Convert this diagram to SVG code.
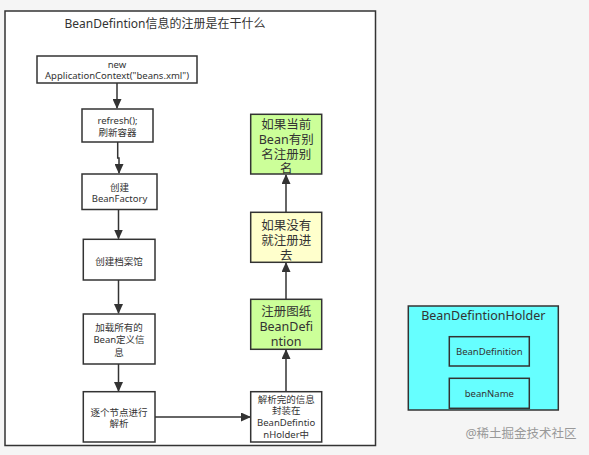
<svg xmlns="http://www.w3.org/2000/svg" width="589" height="455" viewBox="0 0 589 455">
<style>
.bx{stroke:#333;stroke-width:1.5}
.w{fill:#fff}
.g{fill:#ccff99}
.y{fill:#ffffcc}
.c{fill:#66ffff}
text{font-family:"Noto Sans","Noto Sans CJK SC",sans-serif;fill:#333;text-anchor:middle}
.s{font-size:9.5px}
.l{font-size:12.5px}
.ln{stroke:#333;stroke-width:1.5;fill:none}
</style>
<defs>
<marker id="ah" viewBox="0 0 10 10" refX="9" refY="5" markerWidth="10" markerHeight="9" markerUnits="userSpaceOnUse" orient="auto" preserveAspectRatio="none">
<path d="M0,0 L10,5 L0,10 Z" fill="#333"/>
</marker>
</defs>
<rect width="589" height="455" fill="#f5f5f5"/>
<rect x="5" y="11" width="370.5" height="434.5" fill="#fff" stroke="#333" stroke-width="1.5"/>
<text x="165" y="28" style="font-size:12px">BeanDefintion信息的注册是在干什么</text>
<g id="connectors">
<path class="ln" d="M117,83 V108" marker-end="url(#ah)"/>
<path class="ln" d="M117.7,142 V158 H119 V173" marker-end="url(#ah)"/>
<path class="ln" d="M118.5,209.5 V238.5" marker-end="url(#ah)"/>
<path class="ln" d="M118.5,280 V313" marker-end="url(#ah)"/>
<path class="ln" d="M118.5,364 V391" marker-end="url(#ah)"/>
<path class="ln" d="M155,417 H250" marker-end="url(#ah)"/>
<path class="ln" d="M286,391.7 V350" marker-end="url(#ah)"/>
<path class="ln" d="M286,299.3 V263" marker-end="url(#ah)"/>
<path class="ln" d="M286,212.3 V175" marker-end="url(#ah)"/>
</g>
<g id="n1"><rect class="bx w" x="37" y="56" width="160" height="27"/>
<text class="s" x="117" y="68">new</text><text class="s" x="117" y="79">ApplicationContext("beans.xml")</text></g>
<g id="n2"><rect class="bx w" x="82" y="109" width="71" height="33"/>
<text class="s" x="117.5" y="124">refresh();</text><text class="s" x="117.5" y="136">刷新容器</text></g>
<g id="n3"><rect class="bx w" x="82" y="174" width="75" height="35.5"/>
<text class="s" x="119.5" y="190.5">创建</text><text class="s" x="119.5" y="202">BeanFactory</text></g>
<g id="n4"><rect class="bx w" x="83.3" y="239.3" width="71.7" height="40.7"/>
<text class="s" x="119" y="264.5">创建档案馆</text></g>
<g id="n5"><rect class="bx w" x="83.3" y="314" width="71.7" height="50"/>
<text class="s" x="119" y="330.5">加载所有的</text><text class="s" x="119" y="343">Bean定义信</text><text class="s" x="119" y="355.5">息</text></g>
<g id="n6"><rect class="bx w" x="83.3" y="391.7" width="71.7" height="50.3"/>
<text class="s" x="119" y="415.5">逐个节点进行</text><text class="s" x="119" y="426.5">解析</text></g>
<g id="n7"><rect class="bx w" x="250.7" y="391.7" width="71" height="50.3"/>
<text class="s" x="286.2" y="403">解析完的信息</text><text class="s" x="286.2" y="414">封装在</text><text class="s" x="286.2" y="426">BeanDefintio</text><text class="s" x="286.2" y="438">nHolder中</text></g>
<g id="n8"><rect class="bx g" x="250.7" y="299.3" width="71" height="50"/>
<text class="l" x="286.2" y="315.5">注册图纸</text><text class="l" x="286.2" y="330.5">BeanDefi</text><text class="l" x="286.2" y="345.5">ntion</text></g>
<g id="n9"><rect class="bx y" x="250.7" y="212.3" width="71" height="50"/>
<text class="l" x="286.2" y="230.2">如果没有</text><text class="l" x="286.2" y="244.7">就注册进</text><text class="l" x="286.2" y="259.5">去</text></g>
<g id="n10"><rect class="bx g" x="250.7" y="114.3" width="71" height="59.7"/>
<text class="l" x="286.2" y="128.5">如果当前</text><text class="l" x="286.2" y="143.8">Bean有别</text><text class="l" x="286.2" y="158.8">名注册别</text><text class="l" x="286.2" y="172.8">名</text></g>
<g id="holder"><rect class="bx c" x="408.3" y="306" width="150" height="104"/>
<text x="483.3" y="320" style="font-size:12.5px">BeanDefintionHolder</text></g>
<g id="bd"><rect class="bx c" x="449.3" y="336.7" width="80" height="29.3"/>
<text class="s" x="489.3" y="354.5">BeanDefinition</text></g>
<g id="bn"><rect class="bx c" x="449.3" y="378.3" width="80" height="30"/>
<text class="s" x="489.3" y="396.5">beanName</text></g>
<text x="521" y="438" style="font-size:12.5px;fill:#999">@稀土掘金技术社区</text>
</svg>
